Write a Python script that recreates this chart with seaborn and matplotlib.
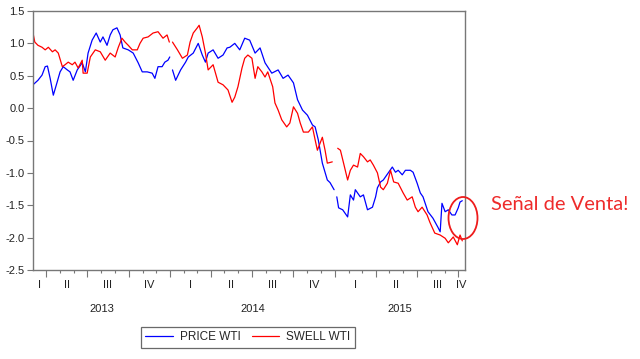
import numpy as np
import pandas as pd
import matplotlib
matplotlib.use("Agg")
import matplotlib.pyplot as plt
import matplotlib.dates as mdates
import matplotlib.transforms as mtransforms
from matplotlib.patches import Ellipse
from matplotlib.lines import Line2D
import seaborn as sns

# --------------------------------------------------
# Data (None = gap)
# --------------------------------------------------
price_dates = [
    "2013-03-03", "2013-03-14", "2013-03-23", "2013-03-30", "2013-04-04", "2013-04-10",
    "2013-04-17", "2013-04-25", "2013-05-02", "2013-05-09", "2013-05-18", "2013-05-24",
    "2013-05-31", "2013-06-09", "2013-06-20", "2013-06-27", "2013-07-03", "2013-07-12",
    "2013-07-21", "2013-07-30", "2013-08-05", "2013-08-14", "2013-08-21", "2013-08-27",
    "2013-09-05", "2013-09-12", "2013-09-18", "2013-09-30", "2013-10-11", "2013-10-22",
    "2013-10-31", "2013-11-11", "2013-11-22", "2013-11-28", "2013-12-05", "2013-12-14",
    "2013-12-20", "2013-12-27", "2013-12-31", "2014-01-03", "2014-01-06", "2014-01-13",
    "2014-01-24", "2014-02-04", "2014-02-10", "2014-02-21", "2014-03-04", "2014-03-13",
    "2014-03-20", "2014-03-26", "2014-04-06", "2014-04-17", "2014-04-28", "2014-05-07",
    "2014-05-13", "2014-05-24", "2014-06-04", "2014-06-15", "2014-06-26", "2014-07-08",
    "2014-07-19", "2014-07-30", "2014-08-14", "2014-08-28", "2014-09-08", "2014-09-19",
    "2014-10-01", "2014-10-10", "2014-10-21", "2014-11-01", "2014-11-12", "2014-11-18",
    "2014-11-25", "2014-11-29", "2014-12-04", "2014-12-15", "2014-12-21", "2014-12-30",
    "2015-01-02", "2015-01-05", "2015-01-09", "2015-01-18", "2015-01-29", "2015-02-04",
    "2015-02-11", "2015-02-15", "2015-02-26", "2015-03-05", "2015-03-14", "2015-03-25",
    "2015-04-01", "2015-04-05", "2015-04-12", "2015-04-18", "2015-04-29", "2015-05-08",
    "2015-05-15", "2015-05-21", "2015-05-30", "2015-06-06", "2015-06-17", "2015-06-23",
    "2015-07-02", "2015-07-09", "2015-07-15", "2015-07-26", "2015-08-06", "2015-08-17",
    "2015-08-22", "2015-08-26", "2015-09-02", "2015-09-09", "2015-09-17", "2015-09-24",
    "2015-10-01", "2015-10-05", "2015-10-10",
]
price_wti = [
    0.36, 0.43, 0.51, 0.64, 0.65, 0.46,
    0.20, 0.39, 0.56, 0.64, 0.59, 0.56,
    0.43, 0.59, 0.70, 0.56, 0.85, 1.05,
    1.16, 1.02, 1.10, 0.97, 1.13, 1.21,
    1.24, 1.13, 0.93, 0.90, 0.85, 0.70,
    0.56, 0.56, 0.54, 0.46, 0.64, 0.64,
    0.71, 0.74, 0.79, None, 0.59, 0.43,
    0.59, 0.71, 0.79, 0.85, 1.00, 0.82,
    0.71, 0.85, 0.90, 0.77, 0.82, 0.93,
    0.94, 1.00, 0.90, 1.08, 1.05, 0.85,
    0.93, 0.70, 0.54, 0.59, 0.46, 0.51,
    0.39, 0.13, -0.03, -0.11, -0.26, -0.29,
    -0.49, -0.65, -0.85, -1.11, -1.15, -1.26,
    None, -1.37, -1.54, -1.57, -1.68, -1.34,
    -1.42, -1.26, -1.37, -1.34, -1.57, -1.53,
    -1.37, -1.23, -1.14, -1.11, -1.00, -0.91,
    -0.99, -0.96, -1.03, -0.96, -0.96, -0.99,
    -1.16, -1.31, -1.37, -1.60, -1.70, -1.84,
    -1.91, -1.47, -1.60, -1.57, -1.65, -1.65,
    -1.54, -1.45, -1.43,
]

swell_dates = [
    "2013-03-03", "2013-03-07", "2013-03-14", "2013-03-23", "2013-03-30", "2013-04-06",
    "2013-04-15", "2013-04-21", "2013-04-28", "2013-05-07", "2013-05-13", "2013-05-20",
    "2013-05-29", "2013-06-04", "2013-06-11", "2013-06-20", "2013-06-22", "2013-07-01",
    "2013-07-08", "2013-07-19", "2013-07-30", "2013-08-10", "2013-08-21", "2013-09-01",
    "2013-09-08", "2013-09-16", "2013-09-23", "2013-09-30", "2013-10-09", "2013-10-20",
    "2013-10-26", "2013-11-02", "2013-11-13", "2013-11-24", "2013-12-05", "2013-12-16",
    "2013-12-25", "2013-12-30", "2014-01-03", "2014-01-06", "2014-01-17", "2014-01-28",
    "2014-02-08", "2014-02-14", "2014-02-21", "2014-03-02", "2014-03-06", "2014-03-13",
    "2014-03-20", "2014-03-26", "2014-04-06", "2014-04-17", "2014-04-28", "2014-05-09",
    "2014-05-18", "2014-05-24", "2014-05-31", "2014-06-09", "2014-06-15", "2014-06-22",
    "2014-07-01", "2014-07-08", "2014-07-14", "2014-07-23", "2014-07-30", "2014-08-05",
    "2014-08-16", "2014-08-21", "2014-08-28", "2014-09-05", "2014-09-16", "2014-09-23",
    "2014-10-01", "2014-10-10", "2014-10-16", "2014-10-23", "2014-11-03", "2014-11-12",
    "2014-11-18", "2014-11-23", "2014-12-04", "2014-12-10", "2014-12-15", "2014-12-26",
    "2015-01-02", "2015-01-07", "2015-01-13", "2015-01-20", "2015-01-29", "2015-02-04",
    "2015-02-11", "2015-02-20", "2015-02-26", "2015-03-05", "2015-03-14", "2015-03-20",
    "2015-03-27", "2015-04-05", "2015-04-12", "2015-04-18", "2015-04-27", "2015-05-04",
    "2015-05-11", "2015-05-21", "2015-06-01", "2015-06-10", "2015-06-21", "2015-06-28",
    "2015-07-04", "2015-07-13", "2015-07-24", "2015-07-30", "2015-08-10", "2015-08-22",
    "2015-09-02", "2015-09-09", "2015-09-20", "2015-09-29", "2015-10-05", "2015-10-10",
]
swell_wti = [
    1.16, 1.02, 0.97, 0.94, 0.90, 0.94,
    0.87, 0.90, 0.85, 0.64, 0.67, 0.71,
    0.67, 0.71, 0.62, 0.74, 0.54, 0.54,
    0.79, 0.90, 0.87, 0.74, 0.85, 0.79,
    0.94, 1.08, 1.02, 0.97, 0.90, 0.90,
    1.00, 1.08, 1.10, 1.16, 1.18, 1.08,
    1.13, 1.02, None, 1.02, 0.90, 0.77,
    0.82, 1.02, 1.16, 1.24, 1.28, 1.10,
    0.85, 0.59, 0.67, 0.40, 0.36, 0.28,
    0.09, 0.17, 0.33, 0.62, 0.77, 0.82,
    0.77, 0.46, 0.64, 0.56, 0.48, 0.56,
    0.33, 0.08, -0.03, -0.18, -0.29, -0.23,
    0.02, -0.08, -0.23, -0.37, -0.37, -0.29,
    -0.49, -0.65, -0.45, -0.65, -0.85, -0.83,
    None, -0.62, -0.65, -0.85, -1.11, -0.96,
    -0.88, -0.91, -0.70, -0.75, -0.83, -0.80,
    -0.88, -1.00, -1.22, -1.26, -1.16, -0.96,
    -1.14, -1.16, -1.31, -1.42, -1.37, -1.53,
    -1.60, -1.53, -1.65, -1.76, -1.93, -1.96,
    -2.01, -2.08, -1.99, -2.11, -1.96, -2.05,
]

y_ticks = [-2.5, -2.0, -1.5, -1.0, -0.5, 0.0, 0.5, 1.0, 1.5]
quarter_names = ["I", "II", "III", "IV"]
years = [2013, 2014, 2015]
x_start, x_end = "2013-03-03", "2015-10-16"

# --------------------------------------------------
# Long table, one segment per unbroken run
# --------------------------------------------------
def to_frame(dates, values, name):
    df = pd.DataFrame({"date": pd.to_datetime(dates),
                       "value": pd.array(values, dtype="Float64")})
    df["segment"] = df["value"].isna().cumsum()
    df = df.dropna().copy()
    df["value"] = df["value"].astype(float)
    df["series"] = name
    return df

df = pd.concat([to_frame(price_dates, price_wti, "PRICE WTI"),
                to_frame(swell_dates, swell_wti, "SWELL WTI")],
               ignore_index=True)

# --------------------------------------------------
# Plot
# --------------------------------------------------
sns.set_theme(style="white")
plt.rcParams["font.family"] = ["Liberation Sans", "DejaVu Sans"]
plt.rcParams["axes.unicode_minus"] = False

palette = {"PRICE WTI": "#0000ff", "SWELL WTI": "#ff0000"}

fig = plt.figure(figsize=(6.4, 3.59), dpi=100)
ax = fig.add_axes([33 / 640, 1 - 270 / 359, 432 / 640, 259 / 359])

sns.lineplot(data=df, x="date", y="value", hue="series", units="segment",
             estimator=None, palette=palette, linewidth=0.9,
             legend=False, ax=ax)

x0, x1 = pd.Timestamp(x_start), pd.Timestamp(x_end)
ax.set_xlim(x0, x1)
ax.set_ylim(-2.5, 1.5)
ax.set_xlabel("")
ax.set_ylabel("")

ax.set_yticks(y_ticks)
ax.set_yticklabels([f"{t:.1f}" for t in y_ticks], fontsize=8, color="#222222")

ax.xaxis.set_major_locator(mdates.MonthLocator(bymonth=[1, 4, 7, 10]))
ax.xaxis.set_minor_locator(mdates.MonthLocator())
ax.tick_params(axis="x", which="both", labelbottom=False)
ax.tick_params(which="both", direction="out", bottom=True, left=True,
               color="#777777", width=0.8)
ax.tick_params(axis="x", which="major", length=5)
ax.tick_params(axis="x", which="minor", length=2.5)
ax.tick_params(axis="y", which="major", length=4, pad=2)

for sp in ax.spines.values():
    sp.set_visible(True)
    sp.set_color("#777777")
    sp.set_linewidth(1.0)

# quarter and year labels, centred on the visible part of each period
trans = mtransforms.blended_transform_factory(ax.transData, ax.transAxes)
for yr in years:
    for q in range(4):
        qs = pd.Timestamp(year=yr, month=3 * q + 1, day=1)
        qe = qs + pd.DateOffset(months=3)
        a, b = max(qs, x0), min(qe, x1)
        if a >= b:
            continue
        mid = a + (b - a) / 2
        ax.text(mdates.date2num(mid), -0.058, quarter_names[q], transform=trans,
                ha="center", va="center", fontsize=8, color="#222222")
    ys, ye = max(pd.Timestamp(year=yr, month=1, day=1), x0), \
        min(pd.Timestamp(year=yr + 1, month=1, day=1), x1)
    mid = ys + (ye - ys) / 2
    ax.text(mdates.date2num(mid), -0.15, str(yr), transform=trans,
            ha="center", va="center", fontsize=8, color="#222222")

# legend box below the axes
handles = [Line2D([0], [0], color=palette[k], lw=0.9) for k in palette]
leg = fig.legend(handles, list(palette), loc="center",
                 bbox_to_anchor=(248 / 640, 1 - 337.5 / 359), ncol=2,
                 frameon=True, fancybox=False, fontsize=8.5,
                 handlelength=2.3, columnspacing=1.0, handletextpad=0.6,
                 borderpad=0.35)
leg.get_frame().set_edgecolor("#444444")
leg.get_frame().set_linewidth(0.9)

# sell signal annotation
fig.add_artist(Ellipse((463 / 640, 1 - 218 / 359), 29 / 640, 42 / 359,
                       transform=fig.transFigure, fill=False,
                       edgecolor="#ee1c1c", linewidth=1.3))
fig.text(491 / 640, 1 - 205 / 359, "Señal de Venta!", color="#ee2b2b",
         fontsize=14.5, family=["Lato", "DejaVu Sans"], ha="left", va="center")

fig.savefig("out.png", dpi=100)
plt.close(fig)
